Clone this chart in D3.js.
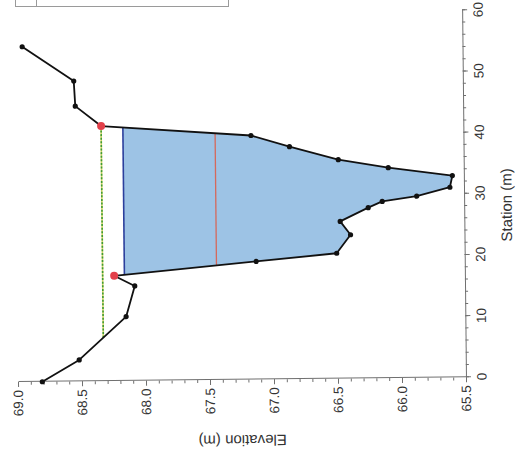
<!DOCTYPE html>
<html><head><meta charset="utf-8">
<script src="https://cdn.jsdelivr.net/npm/d3@7"></script>
<style>body{margin:0;background:#fff}svg{display:block}text{font-family:"Liberation Sans",Arial,sans-serif;fill:#333}</style>
</head><body><svg id="c" width="524" height="461"></svg>
<script>
// Cross-section data (original chart: Station on x, Elevation on y; drawn rotated)
const station   = [0, 3.5, 10.5, 15.5, 17.2, 19.3, 20.5, 23.5, 25.7, 27.9, 28.9, 29.7, 31.1, 33.0, 34.4, 35.8, 38.0, 39.9, 41.7, 45.0, 49.1, 54.8];
const elevation = [68.81, 68.52, 68.15, 68.08, 68.24, 67.13, 66.50, 66.39, 66.47, 66.25, 66.14, 65.87, 65.61, 65.59, 66.09, 66.48, 66.86, 67.16, 68.33, 68.53, 68.54, 68.94];
const bankIdx = [4, 18];
const waterSurface = 68.16;
const redLevel = 67.44;
const bankLevel = 68.33;
const stationTicks = [0, 10, 20, 30, 40, 50, 60];
const elevTicks = [65.5, 66.0, 66.5, 67.0, 67.5, 68.0, 68.5, 69.0];

const svg = d3.select("#c");
// legend box (cut off at top)
svg.append("rect").attr("x",15.5).attr("y",-30).attr("width",213).attr("height",36.5)
  .attr("fill","#fff").attr("stroke","#9a9a9a").attr("stroke-width",1);
svg.append("line").attr("x1",36.5).attr("x2",36.5).attr("y1",-30).attr("y2",6)
  .attr("stroke","#9a9a9a");

const W = 367, H = 448;
const g = svg.append("g").attr("transform","translate(18,382) rotate(-90.6)");
const x = d3.scaleLinear().domain([0,60]).range([0,W]);
const y = d3.scaleLinear().domain([65.5,69]).range([H,0]);

const pts = station.map((s,i)=>[s, elevation[i]]);
let minI = d3.minIndex(elevation);
function crossing(level, dir){
  let i = minI;
  while (elevation[i] < level) i += dir;
  const j = i - dir;
  const t = (level - elevation[j]) / (elevation[i] - elevation[j]);
  return {s: station[j] + t*(station[i]-station[j]), i, j};
}

// water polygon
const L = crossing(waterSurface,-1), R = crossing(waterSurface,1);
const poly = [[L.s, waterSurface]];
for (let k=L.j; k<=R.j; k++) poly.push(pts[k]);
poly.push([R.s, waterSurface]);
g.append("path").attr("d", d3.line().x(d=>x(d[0])).y(d=>y(d[1]))(poly)+"Z")
  .attr("fill","#9dc3e5").attr("stroke","none");

// red level line
const rL = crossing(redLevel,-1), rR = crossing(redLevel,1);
g.append("line").attr("x1",x(rL.s)).attr("x2",x(rR.s)).attr("y1",y(redLevel)).attr("y2",y(redLevel))
  .attr("stroke","#d5695c").attr("stroke-width",1.3);
// water surface line
g.append("line").attr("x1",x(L.s)).attr("x2",x(R.s)).attr("y1",y(waterSurface)).attr("y2",y(waterSurface))
  .attr("stroke","#2c3f9c").attr("stroke-width",1.6);
// bank level dashed line
const bL = crossing(bankLevel,-1), bR = crossing(bankLevel,1);
g.append("line").attr("x1",x(bL.s)).attr("x2",x(bR.s)).attr("y1",y(bankLevel)).attr("y2",y(bankLevel))
  .attr("stroke","#d6d86a").attr("stroke-width",1.6);
g.append("line").attr("x1",x(bL.s)).attr("x2",x(bR.s)).attr("y1",y(bankLevel)).attr("y2",y(bankLevel))
  .attr("stroke","#3f9a35").attr("stroke-width",1.6).attr("stroke-dasharray","2,1.6");

// axes
const minorS = d3.range(0,61,2), minorE = d3.range(655,691,1).map(v=>v/10);
g.append("g").attr("transform",`translate(0,${H})`)
  .call(d3.axisBottom(x).tickValues(minorS).tickSize(3).tickSizeOuter(0).tickFormat(""))
  .call(a=>a.select(".domain").remove());
g.append("g").attr("transform",`translate(0,${H})`)
  .call(d3.axisBottom(x).tickValues(stationTicks).tickSize(5).tickPadding(6).tickSizeOuter(0).tickFormat(d3.format("d")));
g.append("g")
  .call(d3.axisLeft(y).tickValues(minorE).tickSize(3).tickSizeOuter(0).tickFormat(""))
  .call(a=>a.select(".domain").remove());
g.append("g")
  .call(d3.axisLeft(y).tickValues(elevTicks).tickSize(5).tickPadding(3).tickSizeOuter(0).tickFormat(d3.format(".1f")));
g.selectAll(".tick line, .domain").attr("stroke","#707070");
g.selectAll(".tick text").attr("font-size",13.5).attr("fill","#2a2a2a").style("font-family","Liberation Sans, Arial, sans-serif");

g.append("text").attr("x",172).attr("y",H+42).attr("text-anchor","middle").attr("dominant-baseline","central")
  .attr("font-size",15).text("Station (m)");
g.append("text").attr("transform",`translate(-61,${H/2}) rotate(-90)`).attr("text-anchor","middle")
  .attr("dominant-baseline","central").attr("font-size",15).text("Elevation (m)");

// ground profile
g.append("path").attr("d", d3.line().x(d=>x(d[0])).y(d=>y(d[1]))(pts))
  .attr("fill","none").attr("stroke","#111").attr("stroke-width",1.8).attr("stroke-linejoin","round");
g.selectAll("circle.pt").data(pts.filter((d,i)=>!bankIdx.includes(i))).enter().append("circle")
  .attr("class","pt").attr("cx",d=>x(d[0])).attr("cy",d=>y(d[1])).attr("r",2.6).attr("fill","#111");
g.selectAll("circle.bank").data(bankIdx.map(i=>pts[i])).enter().append("circle")
  .attr("class","bank").attr("cx",d=>x(d[0])).attr("cy",d=>y(d[1])).attr("r",4).attr("fill","#e2404a");
</script></body></html>
